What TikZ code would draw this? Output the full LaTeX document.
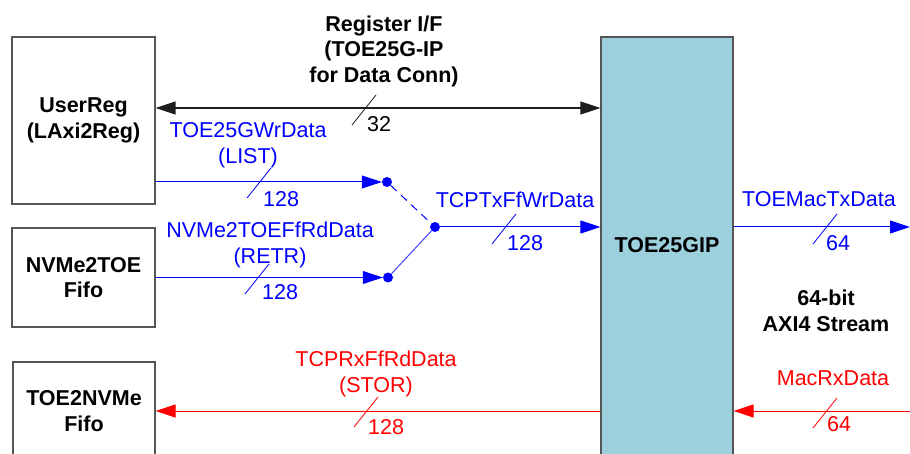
\documentclass[tikz,border=0pt]{standalone}
\usepackage{fontspec}
\setmainfont{Liberation Sans}
\usetikzlibrary{arrows.meta}

\definecolor{ipfill}{RGB}{155,208,220}
\definecolor{boxline}{RGB}{85,85,85}
\definecolor{regline}{RGB}{30,30,30}

\begin{document}
\begin{tikzpicture}[x=1pt,y=-1pt,
  font=\fontsize{21.5}{25.5}\selectfont,
  blk/.style={draw=boxline,line width=1.2pt,fill=white,align=center,inner sep=0pt,font=\fontsize{21.5}{25.5}\selectfont\bfseries},
  tip/.style={-{Triangle[length=20pt,width=13pt]}},
  dot/.style={circle,fill=blue,inner sep=0pt,minimum size=10pt}]
\clip (0,0) rectangle (910,454);

% blocks
\node (UserReg) [blk,minimum width=143pt,minimum height=167pt] at (83.5,120.5) {UserReg\\(LAxi2Reg)};
\node (N2T) [blk,minimum width=143pt,minimum height=99pt] at (83.5,277.5) {NVMe2TOE\\Fifo};
\node (T2N) [blk,minimum width=142pt,minimum height=98pt] at (84,411) {TOE2NVMe\\Fifo};
\node (TOE) [blk,fill=ipfill,minimum width=132pt,minimum height=430pt] at (667,252) {};
\node (TOEName) [font=\fontsize{21.5}{25.5}\selectfont\bfseries] at (667,245) {TOE25GIP};

% switch points
\node (DotA) [dot] at (387,182) {};
\node (DotB) [dot] at (388,277.5) {};
\node (DotJ) [dot] at (435,227) {};
\coordinate (TxEnd) at (910,227);
\coordinate (RxEnd) at (910,411);

% register i/f
\draw [regline,line width=1.4pt,{Triangle[length=20pt,width=13pt]}-{Triangle[length=20pt,width=13pt]}] (UserReg.east |- 0,108) -- (TOE.west |- 0,108);
\node (RegIF) [align=center,font=\fontsize{21.5}{25.5}\selectfont\bfseries] at (384,51) {Register I/F\\(TOE25G-IP\\for Data Conn)};
\draw [regline,line width=0.8pt] (352,125) -- (376,95);
\node (RegW) [anchor=west,inner sep=0pt] at (367,124) {32};

% tx path
\draw [blue,line width=1pt,tip] (UserReg.east |- DotA) -- (DotA);
\node (WrName) [blue,align=center] at (248,145) {TOE25GWrData\\(LIST)};
\draw [blue,line width=0.8pt] (247,198) -- (271,168);
\node (WrW) [blue,anchor=west,inner sep=0pt] at (263,199) {128};

\draw [blue,line width=1pt,tip] (N2T.east) -- (DotB);
\node (RdName) [blue,align=center] at (270,245) {NVMe2TOEFfRdData\\(RETR)};
\draw [blue,line width=0.8pt] (245,294) -- (269,264);
\node (RdW) [blue,anchor=west,inner sep=0pt] at (262,292) {128};

\draw [blue,line width=1pt,dash pattern=on 8pt off 6pt] (DotA) -- (DotJ);
\draw [blue!75,line width=1pt] (DotB) -- (DotJ);

\draw [blue,line width=1pt,tip] (DotJ) -- (TOE.west |- DotJ);
\node (TxName) [blue] at (515,200) {TCPTxFfWrData};
\draw [blue,line width=0.8pt] (492,244) -- (516,214);
\node (TxW) [blue,anchor=west,inner sep=0pt] at (507,243) {128};

\draw [blue,line width=1pt,tip] (TOE.east |- TxEnd) -- (TxEnd);
\node (MacTxName) [blue] at (819,199) {TOEMacTxData};
\draw [blue,line width=0.8pt] (813,244) -- (837,214);
\node (MacTxW) [blue,anchor=west,inner sep=0pt] at (826,243) {64};

\node (Axi) [align=center,font=\fontsize{21.5}{25.5}\selectfont\bfseries] at (826,311) {64-bit\\AXI4 Stream};

% rx path
\draw [red,line width=1pt,tip] (RxEnd) -- (TOE.east |- RxEnd);
\node (MacRxName) [red] at (833,378) {MacRxData};
\draw [red,line width=0.8pt] (813,428) -- (837,398);
\node (MacRxW) [red,anchor=west,inner sep=0pt] at (827,424) {64};

\draw [red,line width=1pt,tip] (TOE.west |- RxEnd) -- (T2N.east);
\node (RxName) [red,align=center] at (376,374) {TCPRxFfRdData\\(STOR)};
\draw [red,line width=0.8pt] (354,427) -- (378,397);
\node (RxW) [red,anchor=west,inner sep=0pt] at (368,427) {128};
\end{tikzpicture}
\end{document}
